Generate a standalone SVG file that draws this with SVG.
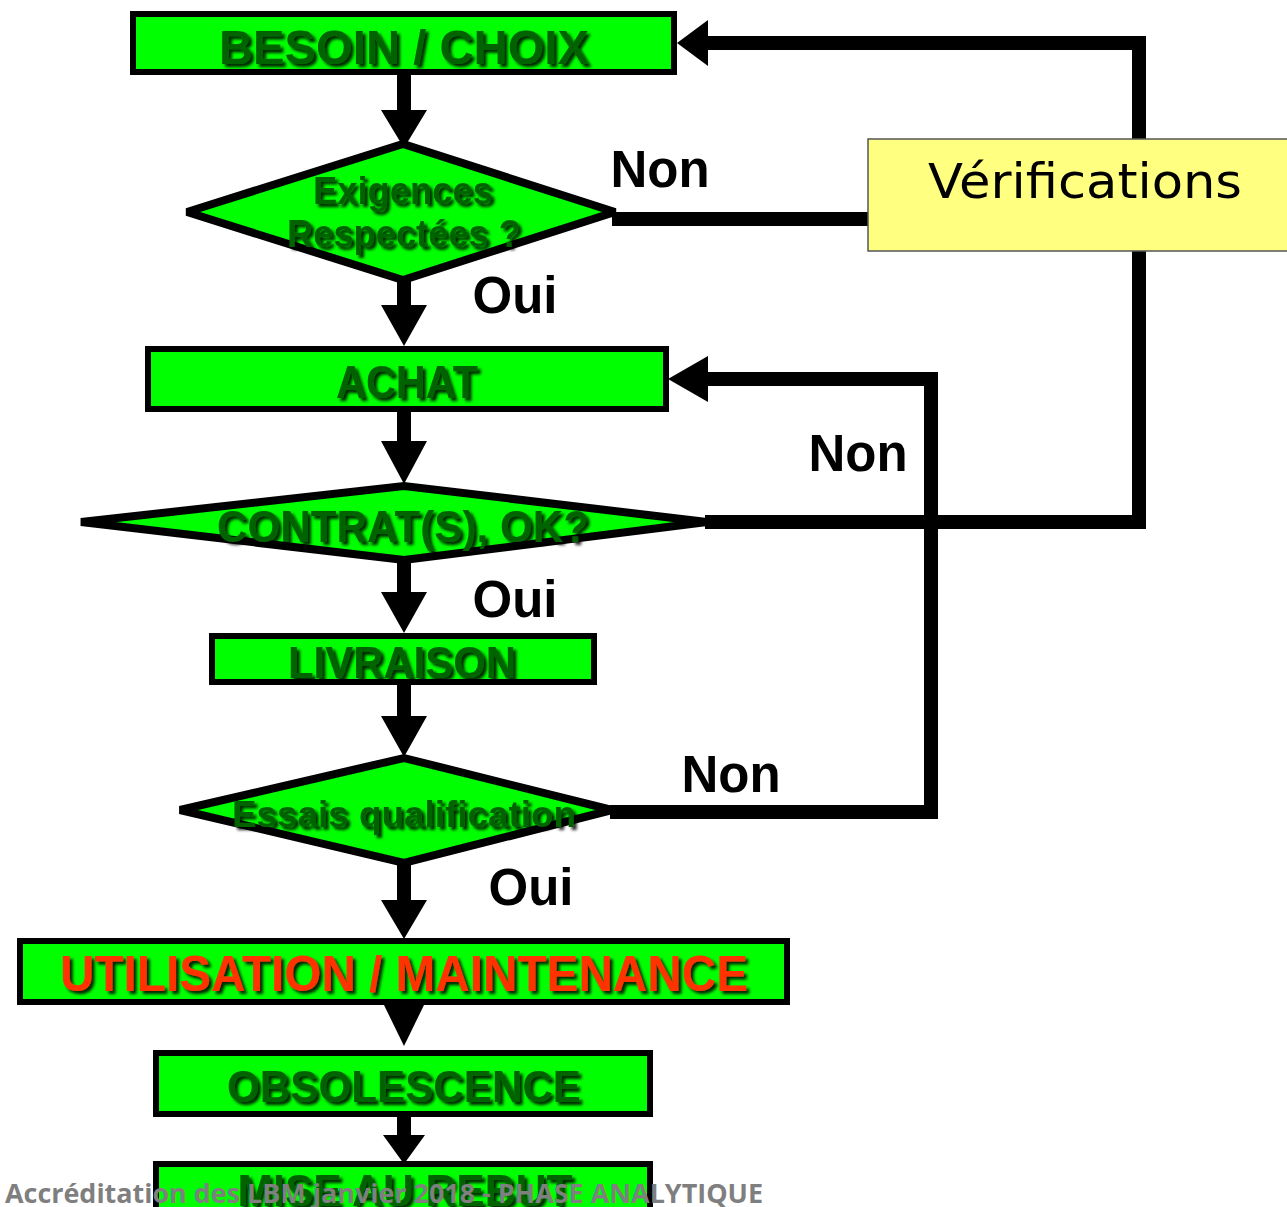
<svg xmlns="http://www.w3.org/2000/svg" width="1287" height="1207" viewBox="0 0 1287 1207">
<defs>
<filter id="sh" x="-10%" y="-30%" width="120%" height="160%">
<feGaussianBlur in="SourceAlpha" stdDeviation="1.5" result="b"/>
<feOffset in="b" dx="3" dy="3" result="o"/>
<feComponentTransfer in="o" result="o2"><feFuncA type="linear" slope="0.85"/></feComponentTransfer>
<feMerge><feMergeNode in="o2"/><feMergeNode in="SourceGraphic"/></feMerge>
</filter>
<style>
.box{fill:#00FF00;stroke:#000;stroke-width:6}
.dia{fill:#00FF00;stroke:#000;stroke-width:8;stroke-linejoin:miter;stroke-miterlimit:3}
.t{font-family:"Liberation Sans",Arial,sans-serif;font-weight:bold;text-anchor:middle;fill:#006400;filter:url(#sh)}
.red{fill:#FF3300}
.lbl{font-family:"Liberation Sans",Arial,sans-serif;font-weight:bold;font-size:51px;fill:#000}
.ln{fill:none;stroke:#000;stroke-width:14;stroke-linejoin:miter}
.ah{fill:#000}
</style>
</defs>
<g id="connectors">
<path class="ln" d="M705,522 H1139 V43 H706"/>
<polygon class="ah" points="677,43 708,20 708,66"/>
<path class="ln" d="M612,219 H868"/>
<path class="ln" d="M610,812 H931 V379 H706"/>
<polygon class="ah" points="668,379 708,356 708,402"/>
<path class="ah" d="M397,75 H411 V110 H427 L404,148 L381,110 H397 Z"/>
<path class="ah" d="M397,280 H411 V305 H427 L404,346 L381,305 H397 Z"/>
<path class="ah" d="M397,412 H411 V441 H427 L404,484 L381,441 H397 Z"/>
<path class="ah" d="M397,560 H411 V592 H427 L404,633 L381,592 H397 Z"/>
<path class="ah" d="M397,685 H411 V716 H427 L404,757 L381,716 H397 Z"/>
<path class="ah" d="M397,863 H411 V900 H427 L404,939 L381,900 H397 Z"/>
<path class="ah" d="M384,1005 H424 L404,1046 Z"/>
<path class="ah" d="M397,1117 H411 V1135 H425 L404,1164 L383,1135 H397 Z"/>
</g>
<g id="labels">
<text class="lbl" x="660" y="187" text-anchor="middle">Non</text>
<text class="lbl" x="858" y="471" text-anchor="middle">Non</text>
<text class="lbl" x="731" y="792" text-anchor="middle">Non</text>
<text class="lbl" x="515" y="313" text-anchor="middle">Oui</text>
<text class="lbl" x="515" y="617" text-anchor="middle">Oui</text>
<text class="lbl" x="531" y="905" text-anchor="middle">Oui</text>
</g>
<g id="besoin">
<rect class="box" x="133" y="14" width="541" height="58"/>
<text class="t" x="404" y="64" font-size="48" textLength="370" lengthAdjust="spacingAndGlyphs">BESOIN / CHOIX</text>
</g>
<g id="exigences">
<polygon class="dia" points="187,212 403,144 615,212 403,280"/>
<text class="t" x="403" y="204" font-size="38" textLength="180" lengthAdjust="spacingAndGlyphs">Exigences</text>
<text class="t" x="404" y="247" font-size="38" textLength="234" lengthAdjust="spacingAndGlyphs">Respectées ?</text>
</g>
<g id="verifications">
<rect x="868" y="139" width="425" height="112" fill="#FFFF80" stroke="#555" stroke-width="1.5"/>
<text x="1085" y="198" font-family="'DejaVu Sans',sans-serif" font-size="48" text-anchor="middle" textLength="314" lengthAdjust="spacingAndGlyphs" fill="#000">Vérifications</text>
</g>
<g id="achat">
<rect class="box" x="148" y="349" width="518" height="60"/>
<text class="t" x="407" y="398" font-size="46" textLength="142" lengthAdjust="spacingAndGlyphs">ACHAT</text>
</g>
<g id="contrat">
<polygon class="dia" points="81,522 404,486 707,522 404,560"/>
<text class="t" x="403" y="542" font-size="44" textLength="372" lengthAdjust="spacingAndGlyphs">CONTRAT(S), OK?</text>
</g>
<g id="livraison">
<rect class="box" x="212" y="636" width="382" height="46"/>
<text class="t" x="402" y="678" font-size="44" textLength="228" lengthAdjust="spacingAndGlyphs">LIVRAISON</text>
</g>
<g id="essais">
<polygon class="dia" points="180,810 404,758 612,810 404,863"/>
<text class="t" x="404" y="827" font-size="37" textLength="344" lengthAdjust="spacingAndGlyphs">Essais qualification</text>
</g>
<g id="utilisation">
<rect class="box" x="20" y="941" width="767" height="61"/>
<text class="t red" x="404" y="991" font-size="50" textLength="688" lengthAdjust="spacingAndGlyphs">UTILISATION / MAINTENANCE</text>
</g>
<g id="obsolescence">
<rect class="box" x="156" y="1053" width="494" height="61"/>
<text class="t" x="404" y="1102" font-size="45" textLength="354" lengthAdjust="spacingAndGlyphs">OBSOLESCENCE</text>
</g>
<g id="mise">
<rect class="box" x="156" y="1164" width="494" height="60"/>
<text class="t" x="405" y="1206" font-size="45" textLength="335" lengthAdjust="spacingAndGlyphs">MISE AU REBUT</text>
</g>
<text x="5" y="1203" font-family="'Open Sans','Liberation Sans',sans-serif" font-weight="bold" font-size="27" fill="#7F7F7F" textLength="758" lengthAdjust="spacingAndGlyphs">Accréditation des LBM janvier 2018 - PHASE ANALYTIQUE</text>
</svg>
